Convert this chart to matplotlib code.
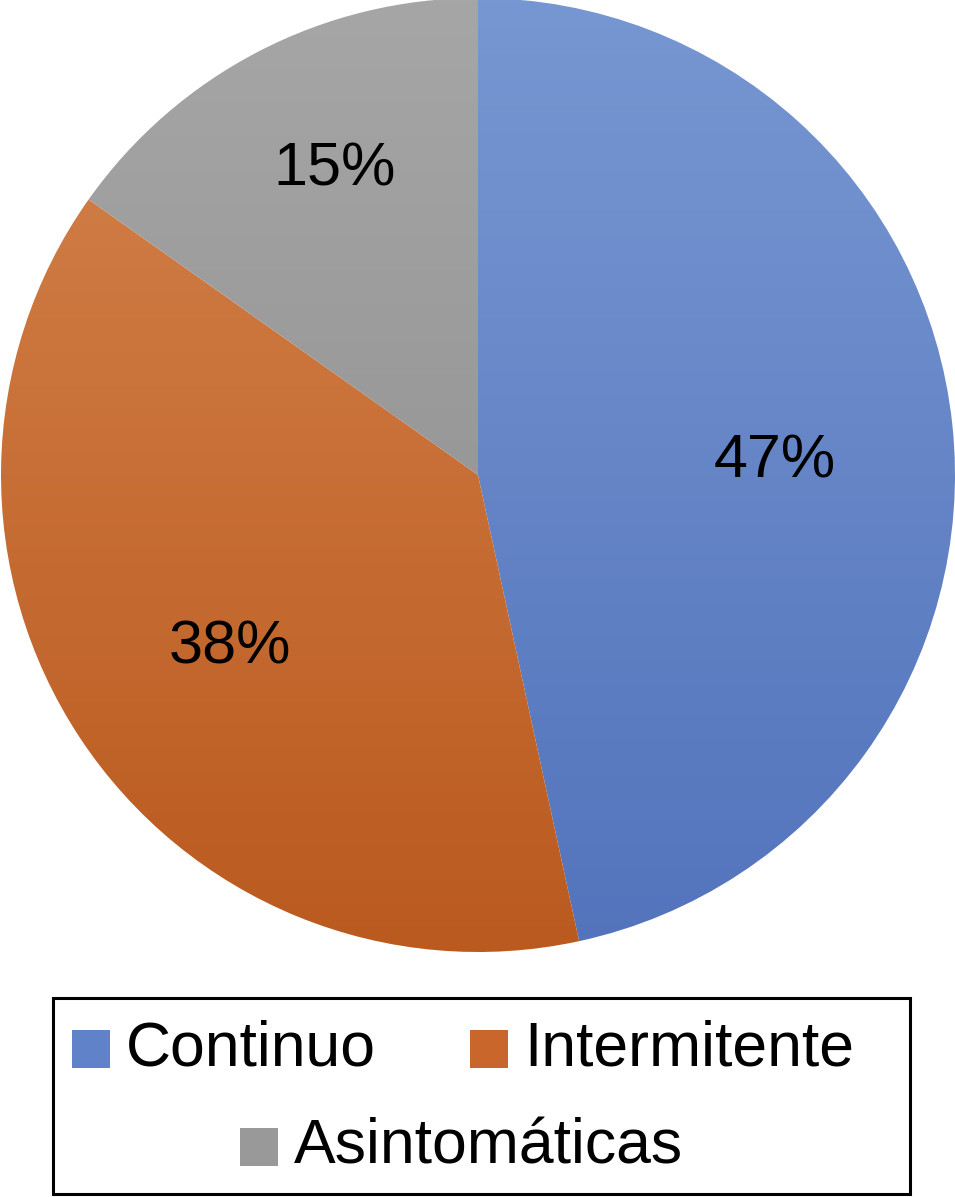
import matplotlib
matplotlib.use("Agg")
import matplotlib.pyplot as plt
from matplotlib.colors import LinearSegmentedColormap
from matplotlib.patches import Rectangle
import numpy as np

FONT = ["Liberation Sans", "DejaVu Sans"]

# Data (slice sizes; labels as printed)
categories = ["Continuo", "Intermitente", "Asintomáticas"]
values = [46.6, 38.2, 15.2]
pct_labels = ["47%", "38%", "15%"]

# Styling: (top colour, bottom colour) for each slice gradient
grad_colors = [("#7797D2", "#5373BC"), ("#D5844E", "#BA5A1F"), ("#A6A6A6", "#8A8A8A")]
legend_colors = ["#5F82C8", "#C8662C", "#999999"]
label_xy = [(0.623, 0.027), (-0.520, -0.363), (-0.300, 0.639)]

W, H = 955, 1197
fig = plt.figure(figsize=(W / 100, H / 100), dpi=100)
fig.patch.set_facecolor("white")

# Pie axes: center (478, 475) px, radius 477 px
cx, cy, r = 478, 475, 477
ax = fig.add_axes([(cx - r) / W, (H - cy - r) / H, 2 * r / W, 2 * r / H])
wedges, _ = ax.pie(values, startangle=90, counterclock=False, radius=1,
                   wedgeprops=dict(linewidth=0))
ax.set_xlim(-1, 1)
ax.set_ylim(-1, 1)
ax.set_aspect("equal")
ax.axis("off")

grad = np.linspace(1, 0, 256).reshape(-1, 1)
for w, (top, bot), txt, (lx, ly) in zip(wedges, grad_colors, pct_labels, label_xy):
    w.set_facecolor("none")
    cmap = LinearSegmentedColormap.from_list("g", [bot, top])
    im = ax.imshow(grad, cmap=cmap, extent=[-1, 1, -1, 1], aspect="auto",
                   origin="upper", zorder=1)
    im.set_clip_path(w)
    ax.text(lx, ly, txt, ha="center", va="center",
            fontsize=44, family=FONT, color="black", zorder=3)

# Legend drawn in pixel coordinates
lax = fig.add_axes([0, 0, 1, 1])
lax.set_xlim(0, W)
lax.set_ylim(H, 0)
lax.axis("off")
lax.add_patch(Rectangle((53, 998), 857, 196, facecolor="white",
                        edgecolor="black", linewidth=2.2))
entries = [(72, 1049), (470, 1049), (240, 1147)]
for (x, y), name, col in zip(entries, categories, legend_colors):
    lax.add_patch(Rectangle((x, y - 19), 38, 38, facecolor=col, edgecolor="none"))
    lax.text(x + 54, y, name, ha="left", va="center", fontsize=45,
             family=FONT, color="black")

fig.savefig("out.png", dpi=100, facecolor="white")
